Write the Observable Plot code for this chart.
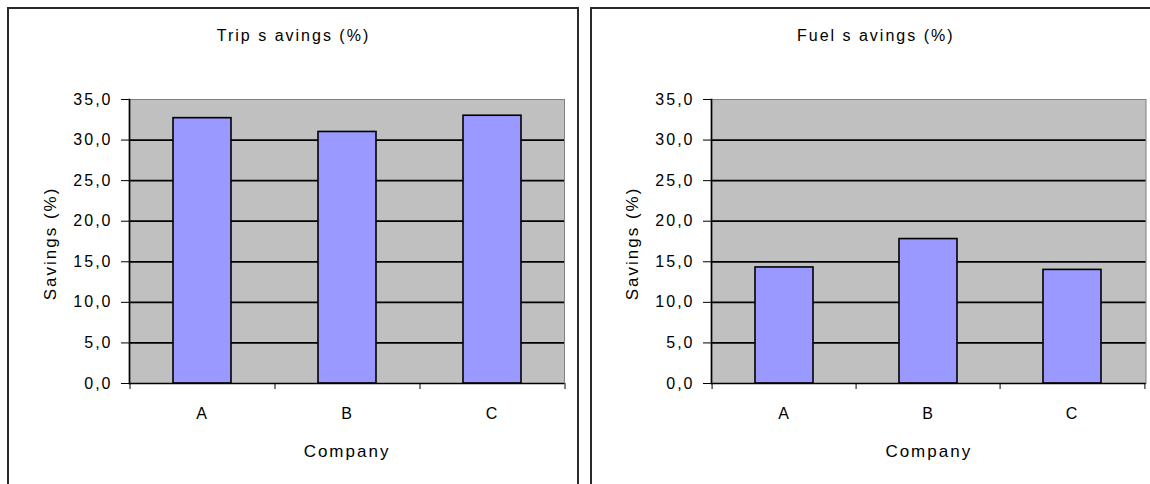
<!DOCTYPE html>
<html><head><meta charset="utf-8">
<script src="https://cdn.jsdelivr.net/npm/d3@7"></script>
<script src="https://cdn.jsdelivr.net/npm/@observablehq/plot@0.6"></script>
<style>
body{margin:0;background:#fff;}
#wrap{position:relative;width:1150px;height:484px;overflow:hidden;background:#fff;}
.panel{position:absolute;top:7px;height:520px;border:2px solid #2a2a2a;box-sizing:border-box;}
.chart{position:absolute;top:0;}
</style></head><body>
<div id="wrap">
<div class="panel" style="left:7px;width:572px"></div>
<div class="panel" style="left:590px;width:600px"></div>
<div id="c1" class="chart" style="left:0"></div>
<div id="c2" class="chart" style="left:580px"></div>
</div>
<script>
const companies = ["A", "B", "C"];
const tripSavings = [32.7, 31.0, 33.0];
const fuelSavings = [14.3, 17.8, 14.0];
const yTicks = [0, 5, 10, 15, 20, 25, 30, 35];
const titles = ["Trip s avings (%)", "Fuel s avings (%)"];
const yLabel = "Savings (%)";
const xLabel = "Company";

function chart(values, title, opts) {
  const {width, ml, mr, titleDx} = opts;
  const height = 484, mt = 99, mb = 101;
  const step = (width - ml - mr) / companies.length;
  const data = companies.map((c, i) => ({company: c, value: values[i]}));
  return Plot.plot({
    width, height, marginLeft: ml, marginRight: mr, marginTop: mt, marginBottom: mb,
    style: {background: "transparent", fontFamily: "'Liberation Sans', Arial, sans-serif", fontSize: "16px", letterSpacing: "2px", color: "black"},
    x: {domain: companies, paddingInner: 0.6, paddingOuter: 0.3},
    y: {domain: [0, 35], label: null},
    marks: [
      Plot.frame({fill: "#c0c0c0", stroke: "#808080"}),
      Plot.ruleY(yTicks.filter(t => t > 0 && t < 35), {stroke: "black", strokeWidth: 1.7}),
      Plot.barY(data, {x: "company", y: "value", fill: "#9999ff", stroke: "black", strokeWidth: 1.6}),
      Plot.frame({anchor: "left", stroke: "black", strokeWidth: 1.7}),
      Plot.ruleY([0], {stroke: "black", strokeWidth: 1.7}),
      Plot.axisY({ticks: yTicks, tickFormat: d => d.toFixed(1).replace(".", ","), tickSize: 8, tickPadding: 9, label: null, fontSize: 16}),
      Plot.axisX({tickSize: 0, tickPadding: 24, label: null, fontSize: 16}),
      Plot.axisX({ticks: companies, tickSize: 6, tickFormat: () => "", dx: -step / 2, label: null}),
      Plot.axisX({ticks: companies.slice(-1), tickSize: 6, tickFormat: () => "", dx: step / 2, label: null}),
      Plot.text([title], {text: d => d, frameAnchor: "top", dy: -64, dx: titleDx, lineAnchor: "middle", textAnchor: "middle", fontSize: 16}),
      Plot.text([xLabel], {text: d => d, frameAnchor: "bottom", dy: 68, lineAnchor: "middle", textAnchor: "middle", fontSize: 17}),
      Plot.text([yLabel], {text: d => d, frameAnchor: "left", dx: -78.5, dy: 2, rotate: -90, lineAnchor: "middle", textAnchor: "middle", fontSize: 17})
    ]
  });
}

document.getElementById("c1").appendChild(chart(tripSavings, titles[0], {width: 580, ml: 129, mr: 16, titleDx: -53.5}));
document.getElementById("c2").appendChild(chart(fuelSavings, titles[1], {width: 570, ml: 131, mr: 4.5, titleDx: -53}));
</script>
</body></html>
